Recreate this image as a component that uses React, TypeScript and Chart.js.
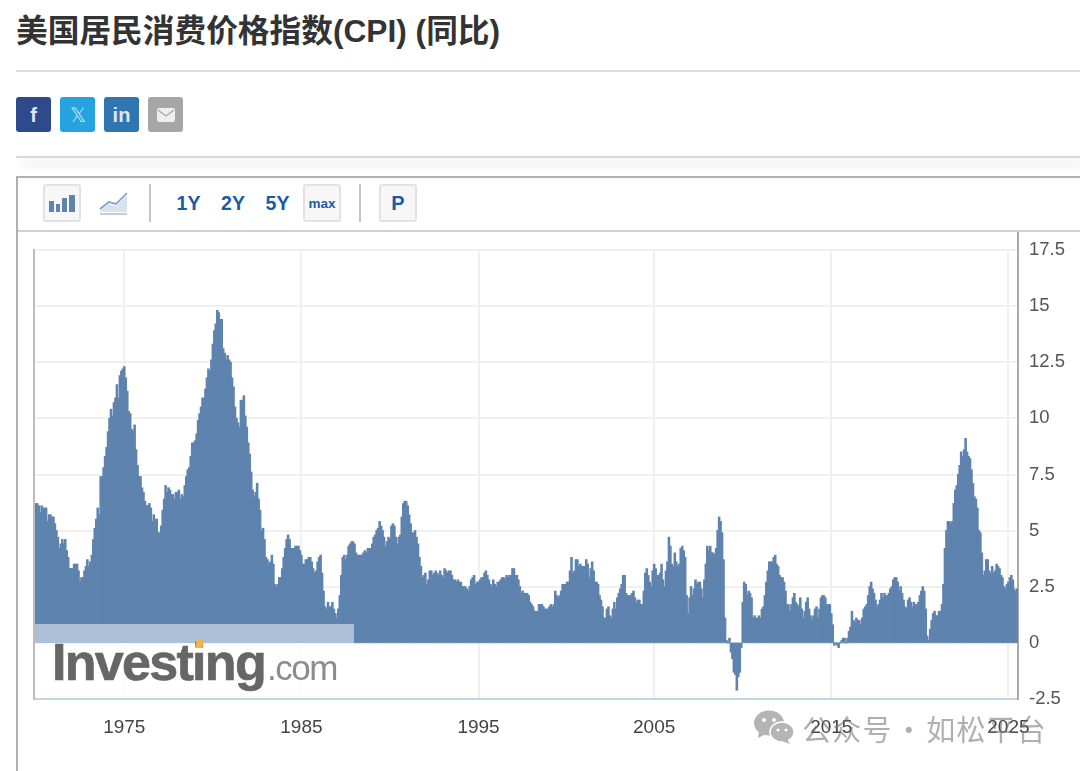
import React, { useEffect, useRef } from "react";
import { Chart, registerables } from "chart.js";

Chart.register(...registerables);

const titleText = "美国居民消费价格指数(CPI) (同比)";
const xTickYears = ["1975", "1985", "1995", "2005", "2015", "2025"];
const xTickMonths = ["1975-01", "1985-01", "1995-01", "2004-12", "2014-12", "2024-12"];
const rangeButtons = ["1Y", "2Y", "5Y"];
const watermarkText = "公众号 · 如松平台";

const values1970s = [
  6.2, 6.2, 6.1, 5.8, 6.1, 6.0, 6.0, 6.0, 5.4, 5.7, 5.7, 5.6,
  5.6, 5.3, 5.0, 4.7, 4.2, 4.4, 4.6, 4.4, 4.6, 4.1, 3.8, 3.3,
  3.3, 3.3, 3.5, 3.5, 3.5, 3.2, 2.7, 2.9, 2.9, 3.2, 3.4, 3.7,
  3.4, 3.6, 3.9, 4.6, 5.1, 5.5, 6.0, 5.7, 7.4, 7.4, 7.8, 8.3,
  8.7, 9.4, 10.0, 10.4, 10.1, 10.7, 10.9, 11.5, 10.9, 11.9, 12.1, 12.2,
  12.3, 11.8, 11.2, 10.3, 10.2, 9.5, 9.4, 9.7, 8.6, 7.9, 7.4, 7.4,
  6.9, 6.7, 6.3, 6.1, 6.1, 6.2, 6.0, 5.4, 5.7, 5.5, 5.5, 4.9,
  4.9, 5.2, 5.9, 6.4, 7.0, 6.7, 6.9, 6.8, 6.6, 6.6, 6.4, 6.7,
  6.7, 6.8, 6.4, 6.6, 6.5, 7.0, 7.4, 7.7, 7.8, 8.3, 8.9, 8.9,
  9.0, 9.3, 9.9, 10.2, 10.5, 10.9, 10.9, 11.3, 11.8, 12.2, 12.1, 12.6,
];
const values1980s = [
  13.3, 13.9, 14.2, 14.8, 14.7, 14.4, 14.4, 13.1, 12.9, 12.6, 12.8, 12.6,
  12.5, 11.8, 11.4, 10.5, 10.0, 9.8, 9.6, 10.8, 10.8, 11.0, 10.1, 9.6,
  8.9, 8.4, 7.6, 6.8, 6.5, 6.7, 7.1, 6.4, 5.9, 5.0, 5.1, 4.6,
  3.8, 3.7, 3.5, 3.6, 3.9, 3.5, 2.6, 2.5, 2.6, 2.9, 2.9, 3.3,
  3.8, 4.2, 4.6, 4.8, 4.6, 4.2, 4.2, 4.2, 4.3, 4.3, 4.3, 4.1,
  3.9, 3.5, 3.5, 3.7, 3.7, 3.8, 3.8, 3.6, 3.3, 3.1, 3.2, 3.6,
  3.8, 3.9, 3.1, 2.3, 1.6, 1.5, 1.8, 1.6, 1.6, 1.8, 1.5, 1.3,
  1.1, 1.5, 2.1, 3.0, 3.8, 3.9, 3.7, 3.9, 4.3, 4.4, 4.5, 4.5,
  4.4, 4.0, 3.9, 3.9, 3.9, 3.9, 4.0, 4.1, 4.0, 4.2, 4.2, 4.2,
  4.4, 4.7, 4.8, 5.0, 5.1, 5.4, 5.2, 5.0, 4.7, 4.3, 4.5, 4.7,
];
const values1990s = [
  4.6, 5.2, 5.3, 5.2, 4.7, 4.4, 4.7, 4.8, 5.6, 6.2, 6.3, 6.3,
  6.1, 5.7, 5.3, 4.9, 4.9, 5.0, 4.7, 4.4, 3.8, 3.4, 2.9, 3.0,
  3.1, 2.6, 2.8, 3.2, 3.2, 3.0, 3.1, 3.2, 3.1, 3.0, 3.2, 3.0,
  2.9, 3.3, 3.2, 3.1, 3.2, 3.2, 3.0, 2.8, 2.8, 2.7, 2.8, 2.7,
  2.7, 2.5, 2.5, 2.5, 2.4, 2.3, 2.5, 2.8, 2.9, 3.0, 2.6, 2.7,
  2.7, 2.8, 2.9, 2.9, 3.1, 3.2, 3.0, 2.8, 2.6, 2.5, 2.8, 2.6,
  2.5, 2.7, 2.7, 2.8, 2.9, 2.9, 2.8, 3.0, 2.9, 3.0, 3.0, 3.3,
  3.3, 3.0, 3.0, 2.8, 2.5, 2.2, 2.3, 2.2, 2.2, 2.2, 2.1, 1.8,
  1.7, 1.6, 1.4, 1.4, 1.4, 1.7, 1.7, 1.7, 1.6, 1.5, 1.5, 1.5,
  1.6, 1.7, 1.6, 1.7, 2.3, 2.1, 2.0, 2.1, 2.3, 2.6, 2.6, 2.6,
];
const values2000s = [
  2.7, 2.7, 3.2, 3.8, 3.1, 3.2, 3.7, 3.7, 3.4, 3.5, 3.4, 3.4,
  3.4, 3.7, 3.5, 2.9, 3.3, 3.6, 3.2, 2.7, 2.7, 2.6, 2.1, 1.9,
  1.6, 1.1, 1.1, 1.5, 1.6, 1.2, 1.1, 1.5, 1.8, 1.5, 2.0, 2.2,
  2.4, 2.6, 3.0, 3.0, 2.2, 2.1, 2.1, 2.1, 2.2, 2.3, 2.0, 1.8,
  1.9, 1.9, 1.7, 1.7, 2.3, 3.1, 3.3, 3.0, 2.7, 2.5, 3.2, 3.5,
  3.3, 3.0, 3.0, 3.1, 3.5, 2.8, 2.5, 3.2, 3.6, 4.7, 4.3, 3.5,
  3.4, 4.0, 3.6, 3.4, 3.5, 4.2, 4.3, 4.1, 3.8, 2.1, 1.3, 2.0,
  2.5, 2.1, 2.4, 2.8, 2.6, 2.7, 2.7, 2.4, 2.0, 2.8, 3.5, 4.3,
  4.1, 4.3, 4.0, 4.0, 3.9, 4.2, 5.0, 5.6, 5.4, 4.9, 3.7, 1.1,
  0.1, 0.0, 0.2, -0.4, -0.7, -1.3, -1.4, -2.1, -1.5, -1.3, -0.2, 1.8,
];
const values2010s = [
  2.7, 2.6, 2.1, 2.3, 2.2, 2.0, 1.1, 1.2, 1.1, 1.1, 1.2, 1.1,
  1.5, 1.6, 2.1, 2.7, 3.2, 3.6, 3.6, 3.6, 3.8, 3.9, 3.5, 3.4,
  3.0, 2.9, 2.9, 2.7, 2.3, 1.7, 1.7, 1.4, 1.7, 2.0, 2.2, 1.8,
  1.7, 1.6, 2.0, 1.5, 1.1, 1.4, 1.8, 2.0, 1.5, 1.2, 1.0, 1.2,
  1.5, 1.6, 1.1, 1.5, 2.0, 2.1, 2.1, 2.0, 1.7, 1.7, 1.7, 1.3,
  0.8, -0.1, 0.0, -0.1, -0.2, 0.0, 0.1, 0.2, 0.2, 0.0, 0.2, 0.5,
  0.7, 1.4, 1.0, 0.9, 1.1, 1.0, 1.0, 0.8, 1.1, 1.5, 1.6, 1.7,
  2.1, 2.5, 2.7, 2.4, 2.2, 1.9, 1.6, 1.7, 1.9, 2.2, 2.0, 2.2,
  2.1, 2.1, 2.2, 2.4, 2.5, 2.8, 2.9, 2.9, 2.7, 2.3, 2.5, 2.2,
  1.9, 1.6, 1.5, 1.9, 2.0, 1.8, 1.6, 1.8, 1.7, 1.7, 1.8, 2.1,
];
const values2020s = [
  2.3, 2.5, 2.3, 1.5, 0.3, 0.1, 0.6, 1.0, 1.3, 1.4, 1.2, 1.2,
  1.4, 1.4, 1.7, 2.6, 4.2, 5.0, 5.4, 5.4, 5.3, 5.4, 6.2, 6.8,
  7.0, 7.5, 7.9, 8.5, 8.3, 8.6, 9.1, 8.5, 8.3, 8.2, 7.7, 7.1,
  6.5, 6.4, 6.0, 5.0, 4.9, 4.0, 3.0, 3.2, 3.7, 3.7, 3.2, 3.1,
  3.4, 3.1, 3.2, 3.5, 3.4, 3.3, 3.0, 2.9, 2.5, 2.4, 2.6, 2.7,
  2.9, 3.0, 2.8, 2.4, 2.3, 2.4,
];

const cpiValues = [...values1970s, ...values1980s, ...values1990s, ...values2000s, ...values2010s, ...values2020s];
const monthLabels = cpiValues.map((_, i) => `${1970 + Math.floor(i / 12)}-${String((i % 12) + 1).padStart(2, "0")}`);

const abs = (left: number, top: number, width: number, height: number, extra: React.CSSProperties = {}): React.CSSProperties => ({
  position: "absolute", left, top, width, height, boxSizing: "border-box", ...extra,
});

function Square({ x, color, children }: { x: number; color: string; children: React.ReactNode }) {
  return (
    <div style={abs(x, 97, 35, 35, { background: color, borderRadius: 3, color: "#dfe8f2", textAlign: "center",
      font: "700 20px/36px 'Liberation Sans'" })}>{children}</div>
  );
}

function ToolBtn({ x, w, children }: { x: number; w: number; children: React.ReactNode }) {
  return (
    <div style={abs(x, 184, w, 38, { background: "#f7f7f7", border: "2px solid #e2e2e2", borderRadius: 3, color: "#1a5ba5",
      textAlign: "center", fontFamily: "'Liberation Sans'", fontWeight: 700 })}>{children}</div>
  );
}

export default function App() {
  const ref = useRef<HTMLCanvasElement>(null);
  useEffect(() => {
    const chart = new Chart(ref.current!, {
      type: "bar",
      data: {
        labels: monthLabels,
        datasets: [{ data: cpiValues, backgroundColor: "#5e83ae", borderWidth: 0, inflateAmount: 0.55, barPercentage: 1, categoryPercentage: 1 } as any],
      },
      options: {
        animation: false,
        responsive: false,
        events: [],
        layout: { autoPadding: false, padding: { left: 17, top: 18, right: 0, bottom: 0 } },
        plugins: { legend: { display: false }, tooltip: { enabled: false } },
        scales: {
          x: {
            type: "category",
            afterBuildTicks: (axis: any) => {
              axis.ticks = axis.ticks.filter((t: any) => xTickMonths.includes(monthLabels[t.value]));
            },
            afterFit: (axis: any) => { axis.height = 72; },
            grid: { color: "#f0f0f0", lineWidth: 2, offset: false, drawTicks: false },
            border: { color: "#c3d3e4", width: 2 },
            ticks: {
              autoSkip: false, maxRotation: 0, minRotation: 0, padding: 17,
              color: "#444444", font: { family: "'Liberation Sans'", size: 19 },
              callback: (value: any) => xTickYears[xTickMonths.indexOf(monthLabels[value as number])],
            },
          },
          y: {
            position: "right",
            min: -2.5, max: 17.5,
            afterFit: (axis: any) => {
              axis.width = 62;
              axis.paddingTop = 0;
              axis.paddingBottom = 0;
              if (axis._margins) { axis._margins.top = 0; axis._margins.bottom = 0; }
            },
            grid: {
              lineWidth: (c: any) => (c.tick?.value === 0 ? 1.5 : 2),
              color: (c: any) => (c.tick?.value === 0 ? "#b4c8de" : "#f0f0f0"),
              drawTicks: false,
            },
            border: { color: "#aaaaaa", width: 2 },
            ticks: {
              stepSize: 2.5, padding: 11, color: "#555555",
              font: { family: "'Liberation Sans'", size: 18.5 },
              callback: (value: any) => String(value),
            },
          },
        },
      },
    });
    return () => chart.destroy();
  }, []);

  return (
    <div style={{ position: "absolute", left: 0, top: 0, width: 1080, height: 771, overflow: "hidden", background: "#fff" }}>
      <div style={abs(16, 9, 900, 44, { font: "700 31.7px/44px 'Liberation Sans','Noto Sans CJK SC'", color: "#333333", whiteSpace: "nowrap" })}>{titleText}</div>
      <div style={abs(16, 70, 1064, 2, { background: "#dddddd" })} />

      <Square x={16} color="#2f4a8b">f</Square>
      <Square x={60} color="#25a3e0"><span style={{ fontWeight: 400, color: "#bfe3f6" }}>𝕏</span></Square>
      <Square x={104} color="#2f76b1">in</Square>
      <Square x={148} color="#a6a6a6">
        <svg width="18" height="14" viewBox="0 0 18 14" style={{ marginTop: 10 }}>
          <rect width="18" height="14" rx="2" fill="#eeeeee" />
          <path d="M1 2 L9 8 L17 2" stroke="#a6a6a6" strokeWidth="1.2" fill="none" />
        </svg>
      </Square>

      <div style={abs(16, 156, 1064, 2, { background: "#d8d8d8", boxShadow: "4px 6px 9px rgba(0,0,0,0.2)" })} />

      <div style={abs(16, 176, 1064, 595, { borderTop: "2px solid #b0b0b0", borderLeft: "2px solid #b0b0b0", background: "#fff" })} />
      <div style={abs(18, 230, 1062, 2, { background: "#d0d0d0" })} />

      <ToolBtn x={43} w={38}>
        <svg width="26" height="18" viewBox="0 0 26 18" style={{ marginTop: 8 }}>
          <rect x="0" y="7" width="5" height="11" fill="#5e83ae" />
          <rect x="7" y="10" width="4" height="8" fill="#5e83ae" />
          <rect x="13" y="4" width="5" height="14" fill="#5e83ae" />
          <rect x="20" y="1" width="6" height="17" fill="#5e83ae" />
        </svg>
      </ToolBtn>
      <svg width="30" height="26" viewBox="0 0 30 26" style={abs(99, 191, 30, 26)}>
        <path d="M1 20 L10 13 L17 15 L28 4 L28 21 L1 21 Z" fill="#d7e3ef" />
        <path d="M1 18 L10 11 L17 13 L28 2" stroke="#7c9dc2" strokeWidth="1.6" fill="none" />
        <rect x="1" y="22" width="27" height="2" fill="#c5ccd4" />
      </svg>
      <div style={abs(149, 184, 2, 38, { background: "#c4c4c4" })} />
      {rangeButtons.map((t, i) => (
        <div key={t} style={abs(172.5 + i * 44.5, 190, 32, 26, { color: "#1a5ba5", font: "700 19.5px/26px 'Liberation Sans'", textAlign: "center" })}>{t}</div>
      ))}
      <ToolBtn x={303} w={38}><span style={{ fontSize: 13.5, lineHeight: "35px" }}>max</span></ToolBtn>
      <div style={abs(359, 184, 2, 38, { background: "#c4c4c4" })} />
      <ToolBtn x={379} w={38}><span style={{ fontSize: 20, lineHeight: "35px" }}>P</span></ToolBtn>

      <canvas ref={ref} width={1062} height={539} style={{ position: "absolute", left: 18, top: 232, display: "block" }} />

      <div style={abs(33, 249, 2, 451, { background: "#bdbdbd" })} />
      <div style={abs(1017, 232, 2, 19, { background: "#aaaaaa" })} />

      <div style={abs(35, 624, 319, 19, { background: "#aec0d8" })} />
      <div style={abs(35, 643, 319, 55, { background: "rgba(255,255,255,0.75)" })} />
      <div style={abs(52, 636, 230, 52, { font: "700 52px/52px 'Liberation Sans'", letterSpacing: -1.7, color: "#666666", whiteSpace: "nowrap", WebkitTextStroke: "0.7px #666666" } as React.CSSProperties)}>Investing</div>
      <div style={abs(267, 650, 90, 35, { font: "400 35px/35px 'Liberation Sans'", letterSpacing: -1.5, color: "#8c8c8c", whiteSpace: "nowrap" })}>.com</div>
      <div style={abs(196, 640, 7, 8, { background: "#f2b544", transform: "skewX(-12deg)" })} />

      <svg width="42" height="34" viewBox="0 0 42 34" style={abs(753, 710, 42, 34)}>
        <ellipse cx="16" cy="13" rx="15" ry="12.5" fill="#b4b4b4" />
        <path d="M6 21 L5 28 L13 24 Z" fill="#b4b4b4" />
        <ellipse cx="29" cy="22" rx="12" ry="10" fill="#b4b4b4" stroke="#ffffff" strokeWidth="1.5" />
        <path d="M34 29 L37 34 L29 31 Z" fill="#b4b4b4" />
        <circle cx="11" cy="10" r="2" fill="#fff" /><circle cx="21" cy="10" r="2" fill="#fff" />
        <circle cx="25" cy="20" r="1.6" fill="#fff" /><circle cx="33" cy="20" r="1.6" fill="#fff" />
      </svg>
      <div style={abs(802, 707, 270, 42, { font: "400 29px/42px 'Noto Sans CJK SC'", letterSpacing: 1.2, wordSpacing: -6, color: "rgba(110,110,110,0.55)", whiteSpace: "pre" })}>{watermarkText}</div>
    </div>
  );
}
